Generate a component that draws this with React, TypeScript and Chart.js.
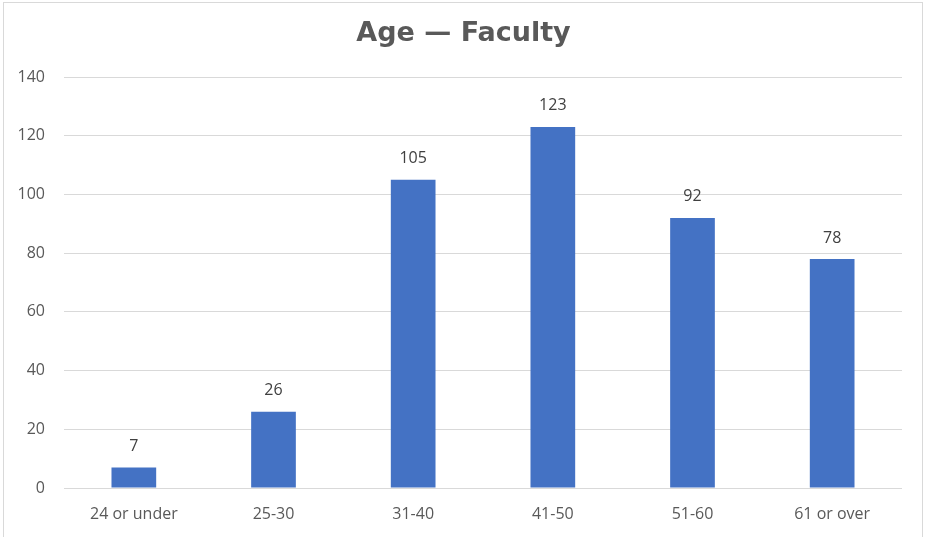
import React, { useEffect, useRef } from "react";
import { Chart, registerables } from "chart.js";

Chart.register(...registerables);

const categories = ["24 or under", "25-30", "31-40", "41-50", "51-60", "61 or over"];
const facultyCounts = [7, 26, 105, 123, 92, 78];
const yTicks = [0, 20, 40, 60, 80, 100, 120, 140];
const chartTitle = "Age \u2014 Faculty";

const labelPlugin = {
  id: "barValueLabels",
  afterDatasetsDraw(chart: any) {
    const ctx = chart.ctx;
    const meta = chart.getDatasetMeta(0);
    ctx.save();
    ctx.fillStyle = "#404040";
    ctx.font = "16px 'Open Sans'";
    ctx.textAlign = "center";
    ctx.textBaseline = "middle";
    meta.data.forEach((bar: any, i: number) => {
      ctx.fillText(String(chart.data.datasets[0].data[i]), bar.x, bar.y - 21);
    });
    ctx.restore();
  },
};

const titlePlugin = {
  id: "centeredTitle",
  afterDraw(chart: any) {
    const ctx = chart.ctx;
    ctx.save();
    ctx.fillStyle = "#595959";
    ctx.font = "bold 27px 'DejaVu Sans'";
    ctx.textAlign = "center";
    ctx.textBaseline = "middle";
    ctx.fillText(chartTitle, chart.width / 2 + 1, 34);
    ctx.restore();
  },
};

export default function App() {
  const ref = useRef<HTMLCanvasElement | null>(null);
  useEffect(() => {
    if (!ref.current) return;
    const chart = new Chart(ref.current, {
      type: "bar",
      data: {
        labels: categories,
        datasets: [
          {
            data: facultyCounts,
            backgroundColor: "#4472C4",
            barPercentage: 0.4,
            categoryPercentage: 0.8,
          },
        ],
      },
      options: {
        animation: false,
        responsive: false,
        layout: { padding: { left: 0, right: 23, top: 77, bottom: 0 } },
        plugins: {
          legend: { display: false },
          tooltip: { enabled: false },
          title: { display: false },
        },
        scales: {
          x: {
            grid: { display: false, drawTicks: false },
            border: { display: false },
            ticks: {
              color: "#595959",
              font: { family: "Open Sans", size: 16 },
              padding: 17,
              maxRotation: 0,
            },
            afterFit: (s: any) => {
              s.height = 49;
            },
          },
          y: {
            min: 0,
            max: 140,
            afterBuildTicks: (s: any) => {
              s.ticks = yTicks.map((v) => ({ value: v }));
            },
            grid: { color: "#d9d9d9", lineWidth: 1, drawTicks: false },
            border: { display: false },
            ticks: {
              color: "#595959",
              font: { family: "Open Sans", size: 16 },
              padding: 19,
            },
            afterFit: (s: any) => {
              s.width = 64;
            },
          },
        },
      },
      plugins: [labelPlugin, titlePlugin],
    });
    return () => chart.destroy();
  }, []);

  return (
    <div
      style={{
        position: "fixed",
        left: 0,
        top: 0,
        width: 925,
        height: 537,
        overflow: "hidden",
        background: "#ffffff",
      }}
    >
      <div
        style={{
          position: "absolute",
          left: 3,
          top: 2,
          width: 920,
          height: 560,
          border: "1px solid #d9d9d9",
          boxSizing: "border-box",
        }}
      />
      <canvas
        ref={ref}
        width={925}
        height={537}
        style={{ position: "absolute", left: 0, top: 0, width: 925, height: 537 }}
      />
    </div>
  );
}
